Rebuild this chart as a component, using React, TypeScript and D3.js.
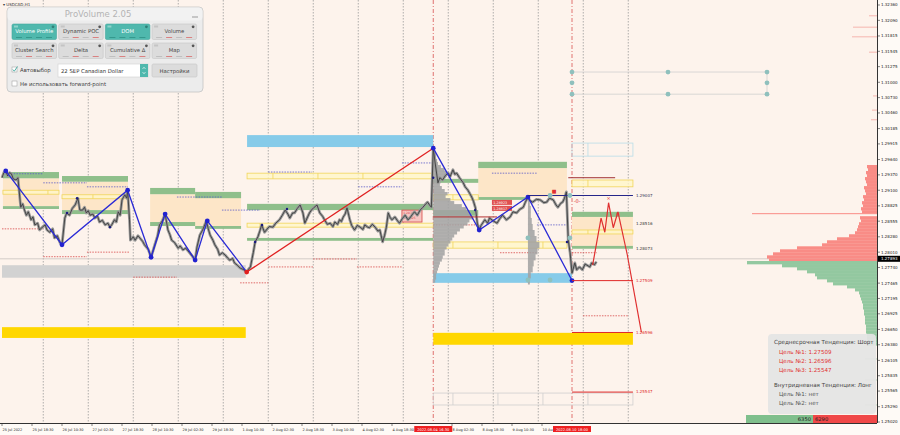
import React from 'react';
import * as d3 from 'd3';

type P = [number, number];

// ---------- price series (H1 bar index, close) ----------
const priceSeries: P[] = [
  [0, 1.2932], [1, 1.2941], [2, 1.2944], [3, 1.2935], [4, 1.2941], [5, 1.2939], [6, 1.2930], [7.5, 1.2928], [8.5, 1.2932], [9, 1.2914],
  [10, 1.2880], [11, 1.2886], [12, 1.2875], [13, 1.2866], [14, 1.2872], [15.5, 1.2858], [16.5, 1.2863], [17.5, 1.2849], [19, 1.2852], [20, 1.2840],
  [21.5, 1.2845], [23, 1.2849], [24, 1.2840], [25.5, 1.2836], [27, 1.2842], [28, 1.2826], [29.5, 1.2830], [31, 1.2817], [32, 1.2814],
  [33.5, 1.2861], [34.5, 1.2870], [36, 1.2866], [37.5, 1.2878], [39, 1.2884], [40.5, 1.2896], [41.5, 1.2875], [43, 1.2875], [44, 1.2880],
  [45, 1.2870], [46, 1.2874], [47, 1.2866], [48.5, 1.2868], [49.5, 1.2861], [51, 1.2864], [52, 1.2854], [53.5, 1.2857], [55, 1.2849],
  [56.5, 1.2852], [57.5, 1.2845], [58.5, 1.2849], [60, 1.2858], [61, 1.2854], [62, 1.2872], [63, 1.2866], [64, 1.2893], [65.5, 1.2902],
  [66.5, 1.2896], [67, 1.2910], [68, 1.2858], [68.5, 1.2822], [70, 1.2828], [71, 1.2822], [72.5, 1.2830], [73.5, 1.2826], [75, 1.2820],
  [76, 1.2814], [78, 1.2806], [79.5, 1.2792], [80.5, 1.2803], [81.5, 1.2814], [83, 1.2830], [84, 1.2849], [85.5, 1.2856], [87, 1.2868],
  [88.5, 1.2840], [89.5, 1.2832], [90.5, 1.2822], [92, 1.2818], [94, 1.2808], [95, 1.2812], [96.5, 1.2805], [98, 1.2808], [100, 1.2800],
  [101.5, 1.2794], [103, 1.2787], [104, 1.2810], [105.5, 1.2831], [107, 1.2840], [109, 1.2856], [110, 1.2842], [111, 1.2831], [112.5, 1.2822],
  [113.5, 1.2814], [115, 1.2806], [116, 1.2796], [117.5, 1.2800], [119, 1.2796], [120.5, 1.2790], [121.5, 1.2787], [123, 1.2790], [124, 1.2782],
  [125.5, 1.2778], [127, 1.2773], [129, 1.2770], [130.5, 1.2766], [131.5, 1.2771], [132.5, 1.2775], [134, 1.2800], [135, 1.2819], [136.5, 1.2828],
  [137.5, 1.2838], [138.5, 1.2849], [140, 1.2836], [141, 1.2840], [142.5, 1.2846], [144.5, 1.2845], [146, 1.2852], [148, 1.2858], [149.5, 1.2866],
  [151, 1.2875], [152.5, 1.2868], [153.5, 1.2861], [155, 1.2870], [156, 1.2870], [157.5, 1.2878], [159, 1.2884], [160.5, 1.2870], [161.5, 1.2852],
  [163, 1.2863], [164, 1.2870], [165, 1.2875], [166.5, 1.2880], [168, 1.2884], [169.5, 1.2870], [171, 1.2864], [172, 1.2858], [173.5, 1.2850],
  [175, 1.2852], [176.5, 1.2846], [177.5, 1.2854], [179, 1.2850], [180, 1.2858], [181, 1.2855], [182, 1.2863], [183, 1.2868], [184, 1.2879],
  [185.5, 1.2858], [186.5, 1.2848], [188, 1.2840], [189.5, 1.2848], [191, 1.2845], [192.5, 1.2841], [193.5, 1.2849], [195, 1.2845], [196, 1.2844],
  [197.5, 1.2850], [199, 1.2845], [200.5, 1.2838], [201.5, 1.2840], [203, 1.2819], [204, 1.2830], [205, 1.2845], [206, 1.2870], [207, 1.2862],
  [208, 1.2858], [209.5, 1.2863], [211, 1.2856], [212, 1.2852], [213.5, 1.2860], [215, 1.2866], [216.5, 1.2858], [217.5, 1.2861], [219, 1.2868],
  [220, 1.2872], [221.5, 1.2866], [223, 1.2875], [224.5, 1.2880], [226, 1.2886], [227, 1.2889], [228, 1.2884], [229, 1.2880], [230, 1.2984],
  [231, 1.2958], [232.5, 1.2923], [233.5, 1.2932], [235, 1.2928], [236.5, 1.2936], [238, 1.2940], [239, 1.2934], [240.5, 1.2946], [241.5, 1.2938],
  [242.5, 1.2940], [244, 1.2932], [246, 1.2923], [247, 1.2916], [248.5, 1.2910], [249.5, 1.2904], [250.5, 1.2898], [251.5, 1.2890], [252.5, 1.2879],
  [253.5, 1.2852], [254.5, 1.2840], [255.5, 1.2848], [257.5, 1.2858], [259, 1.2852], [260, 1.2861], [262, 1.2856], [264, 1.2852], [265.5, 1.2860],
  [267, 1.2866], [269, 1.2858], [271, 1.2863], [272.5, 1.2872], [274.5, 1.2870], [276, 1.2876], [278, 1.2880], [279, 1.2888], [280.5, 1.2898],
  [281.5, 1.2892], [283, 1.2889], [285, 1.2894], [287, 1.2893], [289, 1.2888], [290.5, 1.2889], [292, 1.2896], [294, 1.2893], [295.5, 1.2884],
  [296.5, 1.2880], [298, 1.2887], [299, 1.2889], [300, 1.2896], [301, 1.2907], [302, 1.2822], [303, 1.2800], [303.5, 1.2782], [304, 1.2764],
  [305.5, 1.2782], [306.5, 1.2770], [308, 1.2775], [309.5, 1.2770], [311, 1.2780], [312, 1.2778], [313.5, 1.2775], [314.5, 1.2782], [316, 1.2779],
  [317, 1.2784],
];

const priceDots: P[] = [
  [34.7, 1.2870], [40, 1.2896], [57.6, 1.2845], [135, 1.2819], [138.7, 1.2849], [152, 1.2877], [230, 1.2932], [252.3, 1.2875], [301.3, 1.2819],
];

// ---------- zigzag / projection ----------
const zigzagBlueA: P[] = [[2, 1.2944], [32, 1.2814], [67, 1.2910], [79.5, 1.2792], [87, 1.2868], [103, 1.2787], [109.5, 1.2856], [130.5, 1.2766]];
const zigzagRed: P[] = [[130.5, 1.2766], [230, 1.2984]];
const zigzagBlueB: P[] = [[230, 1.2984], [254.5, 1.2840], [280.5, 1.2898], [304, 1.2751]];
const projection: P[] = [[315, 1.2778], [319.5, 1.2861], [321.5, 1.2836], [323.5, 1.2888], [326, 1.2844], [328.5, 1.2872], [333.5, 1.2796], [341, 1.2660]];

// ---------- zones [bar0, bar1, priceTop, priceBottom] ----------
const greenBands: number[][] = [
  [0.5, 30.4, 1.2942, 1.2931], [0.5, 30.4, 1.2882, 1.2877], [32, 67.2, 1.2935, 1.2925], [32, 67.2, 1.2875, 1.2868],
  [79, 103, 1.2914, 1.2903], [103, 127.5, 1.2907, 1.2896], [79, 103, 1.2854, 1.2847], [103, 127.5, 1.2847, 1.2842],
  [130.7, 230, 1.2886, 1.2875], [130.7, 230, 1.2826, 1.2821], [230, 254, 1.2930, 1.2923], [230, 254, 1.2875, 1.2865],
  [254, 301.3, 1.2960, 1.2949], [254, 280.5, 1.2898, 1.2893], [304, 336.5, 1.2872, 1.2863], [304, 336.5, 1.2812, 1.2807],
];
const beigeZones: number[][] = [
  [0.5, 30.4, 1.2931, 1.2882], [32, 67.2, 1.2925, 1.2875], [79, 127.5, 1.2903, 1.2847], [254, 301.3, 1.2949, 1.2898], [304, 336.5, 1.2863, 1.2812],
];
const yellowBoxes: { r: number[]; div: number[] }[] = [
  { r: [0.5, 30.4, 1.2910, 1.2903], div: [24.5] },
  { r: [32, 67.2, 1.2902, 1.2895], div: [48.5] },
  { r: [130.7, 230, 1.2940, 1.2930], div: [144.5, 168.5, 192.5] },
  { r: [130.7, 230, 1.2852, 1.2845], div: [137.6] },
  { r: [230, 254, 1.2902, 1.2893], div: [240.5] },
  { r: [230, 301.3, 1.2819, 1.2808], div: [240.5, 264.5, 288.5] },
  { r: [304, 336.5, 1.2840, 1.2833], div: [312.5] },
  { r: [304, 336.5, 1.2928, 1.2916], div: [312.5] },
];
const blueOutline = { r: [304, 336.5, 1.2993, 1.2970], div: [312.5] };
const greyOutline = { r: [230, 336.5, 1.2553, 1.2532], div: [240.5, 264.5, 288.5, 312.5] };
const lightBlueBars: number[][] = [[130.7, 230, 1.3007, 1.2986], [230, 304, 1.2764, 1.2747]];
const greyBars: number[][] = [[0, 130, 1.2778, 1.2756]];
const goldBars: number[][] = [[0, 130, 1.2669, 1.2650], [230, 336.5, 1.2659, 1.2638]];

// ---------- dotted levels [bar0, bar1, price] ----------
const navyDotted: number[][] = [
  [0.5, 22, 1.2939], [22, 45.3, 1.2923], [45.3, 67.2, 1.2916], [93.3, 117.3, 1.2898], [117.3, 137.6, 1.2875],
  [142, 165.3, 1.2942], [190, 213.3, 1.2916], [213.3, 230, 1.2958], [261.3, 285.3, 1.2940], [285.3, 301.3, 1.2849],
];
const redDotted: number[][] = [
  [0, 22, 1.2842], [22, 45.3, 1.2793], [45.3, 68.3, 1.2801], [70, 93.3, 1.2757], [127, 142, 1.2747], [142, 166, 1.2775],
  [166, 189.3, 1.2789], [189.3, 213.3, 1.2775], [230, 254, 1.2849], [265.6, 285.3, 1.2800], [304, 317.3, 1.2800], [309.9, 333.9, 1.2689],
];
const solidLevels: { b0: number; b1: number; p: number; c: string }[] = [
  { b0: 280.5, b1: 336.5, p: 1.29007, c: '#26268a' },
  { b0: 230, b1: 264, p: 1.2863, c: '#b43030' },
  { b0: 302, b1: 327, p: 1.2932, c: '#a03030' },
  { b0: 304, b1: 336.5, p: 1.27509, c: '#e02828' },
  { b0: 304, b1: 336.5, p: 1.26596, c: '#e02828' },
  { b0: 304, b1: 336.5, p: 1.25547, c: '#e02828' },
];
const levelLabels: { p: number; c: string }[] = [
  { p: 1.29007, c: '#333355' }, { p: 1.28516, c: '#333' }, { p: 1.28073, c: '#333' },
  { p: 1.27509, c: '#e02828' }, { p: 1.26596, c: '#e02828' }, { p: 1.25547, c: '#e02828' },
];
const handles: P[] = [
  [292.3, 1.29007], [302.9, 1.29007], [280.5, 1.2826], [302.9, 1.2826], [280.5, 1.2752], [292.3, 1.2752],
  [304, 1.3118], [355.2, 1.3118], [408, 1.3118], [304, 1.3099], [408, 1.3099], [304, 1.3079], [355.2, 1.3079], [408, 1.3079],
];
const handleLines: number[][] = [[304, 408, 1.3118], [304, 408, 1.3079]];
const redMarks: { b: number; p: number; t: string }[] = [
  { b: 294.4, p: 1.2909, t: '■' }, { b: 306.7, p: 1.2891, t: '-0-' }, { b: 328.5, p: 1.2868, t: '0' }, { b: 323.5, p: 1.2896, t: '×' },
];

// ---------- volume profiles ----------
const leftProfileTop = 1.2981;
const leftProfileStep = 0.00053;
const leftProfile = [2, 3, 3, 4, 5, 8, 12, 15, 14, 10, 8, 7, 9, 12, 15, 13, 18, 22, 30, 35, 38, 40, 42, 38, 36, 32, 28, 25, 22, 20, 18, 16, 14, 12, 12, 10, 9, 7, 6, 5, 4, 3, 3, 2];
const midProfileTop = 1.2893;
const midProfileStep = 0.00106;
const midProfile = [2, 3, 3, 4, 5, 7, 9, 12, 10, 8, 6, 5, 3, 2];

const rightProfileTop = 1.29544;
const rightStep = 0.00053;
const rightSell = [10, 9, 11, 10, 12, 11, 10, 13, 12, 11, 14, 13, 15, 14, 16, 15, 125, 17, 16, 18, 19, 20, 22, 28, 40, 50, 55, 80, 97, 104, 110, 108];
const rightBuyTop = 1.27854;
const rightBuy = [130, 95, 80, 70, 62, 60, 50, 44, 30, 22, 18, 17, 16, 15, 14, 14, 13, 13, 12, 12, 12, 11, 11, 11, 10, 10, 10, 9];
const rightSparse: P[] = [[1.3217, 8], [1.3197, 24], [1.3180, 25], [1.3153, 8], [1.3076, 4], [1.3051, 5], [1.3034, 6], [1.2613, 12], [1.2576, 12], [1.2532, 12]];

// ---------- axes ----------
const priceTicks = [1.32360, 1.32090, 1.31815, 1.31545, 1.31275, 1.31000, 1.30730, 1.30460, 1.30185, 1.29915, 1.29640, 1.29370, 1.29100, 1.28825,
  1.28555, 1.28280, 1.28010, 1.27740, 1.27465, 1.27195, 1.26925, 1.26650, 1.26380, 1.26105, 1.25835, 1.25565, 1.25290, 1.25020];
const currentPrice = 1.27893;
// labels every 16 bars; null = hidden under a marker box in the reference
const timeLabels: (string | null)[] = ['25 Jul 2022', '25 Jul 18:30', '26 Jul 10:30', '27 Jul 02:30', '27 Jul 18:30', '28 Jul 10:30', '29 Jul 02:30', '29 Jul 18:30',
  '1 Aug 10:30', '2 Aug 02:30', '2 Aug 18:30', '3 Aug 10:30', '4 Aug 02:30', '4 Aug 18:30', null, '8 Aug 02:30', '8 Aug 18:30',
  '9 Aug 10:30', '10 Aug 02:30'];
const gridBars = [22, 46, 70, 94, 118, 142, 166, 190, 214, 238, 262, 286, 310, 334];
const markers: { b: number; t: string }[] = [{ b: 230, t: '2022.08.04 16:30' }, { b: 304, t: '2022.08.10 18:00' }];

// ---------- info box ----------
const infoLines: { t: string; c: string; ind: number }[] = [
  { t: 'Среднесрочная Тенденция: Шорт', c: '#444', ind: 0 },
  { t: 'Цель №1: 1.27509', c: '#e03030', ind: 1 },
  { t: 'Цель №2: 1.26596', c: '#e03030', ind: 1 },
  { t: 'Цель №3: 1.25547', c: '#e03030', ind: 1 },
  { t: 'Внутридневная Тенденция: Лонг', c: '#444', ind: 0 },
  { t: 'Цель №1: нет', c: '#555', ind: 1 },
  { t: 'Цель №2: нет', c: '#555', ind: 1 },
];
const infoY = [344, 354, 363, 372, 387, 396, 405];
const buyVolume = 6350;
const sellVolume = 6290;

const panelButtons = [
  ['Volume Profile', 'Dynamic POC', 'DOM', 'Volume'],
  ['Cluster Search', 'Delta', 'Cumulative Δ', 'Map'],
];
const activeButtons = ['Volume Profile', 'DOM'];

export default function App() {
  const x = d3.scaleLinear().domain([0, 480]).range([2, 902]);
  const y = d3.scaleLinear().domain([1.25003, 1.32448]).range([423, 0]);
  const line = d3.line<P>().x(d => x(d[0])).y(d => y(d[1]));
  const PR = 877, PB = 423;
  const pxStep = (s: number) => Math.abs(y(0) - y(s));
  const vLeft = d3.scaleLinear().domain([0, 42]).range([0, 40]);
  const vRight = d3.scaleLinear().domain([0, 130]).range([0, 130]);

  const rect = (r: number[], props: any, k: any) => (
    <rect key={k} x={x(r[0])} y={y(r[2])} width={x(r[1]) - x(r[0])} height={Math.max(1, y(r[3]) - y(r[2]))} {...props} />
  );
  const boxWithDivs = (b: { r: number[]; div: number[] }, fill: string, stroke: string, k: any) => (
    <g key={k}>
      {rect(b.r, { fill, stroke, strokeWidth: 0.8 }, 'r')}
      {b.div.map((d, i) => (
        <line key={i} x1={x(d)} x2={x(d)} y1={y(b.r[2])} y2={y(b.r[3])} stroke={stroke} strokeWidth={0.8} />
      ))}
    </g>
  );
  const firstMarkerLeft = (b: number) => {
    const m = markers.find(mm => x(mm.b) - 19 > x(b) && x(mm.b) - 19 < x(b) + 20);
    return m ? x(m.b) - 19 - x(b) - 1 : 100;
  };

  return (
    <svg width={900} height={435} style={{ position: 'absolute', left: 0, top: 0, fontFamily: 'DejaVu Sans, Liberation Sans, sans-serif' }}>
      <rect x={0} y={0} width={900} height={435} fill="#fefaf6" />
      <rect x={0} y={0} width={PR} height={PB} fill="#fdf3ec" />
      <defs>
        <clipPath id="plot"><rect x={0} y={0} width={PR} height={PB} /></clipPath>
      </defs>

      <g clipPath="url(#plot)">
        {/* grid */}
        {gridBars.map((b, i) => (
          <line key={i} x1={x(b)} x2={x(b)} y1={0} y2={PB} stroke="#9c9c9c" strokeWidth={0.8} strokeDasharray="1.5,1.5" />
        ))}
        {markers.map((m, i) => (
          <line key={i} x1={x(m.b)} x2={x(m.b)} y1={0} y2={PB} stroke="#d85050" strokeWidth={0.8} strokeDasharray="4,2,1,2" />
        ))}

        {/* zones */}
        {beigeZones.map((r, i) => rect(r, { fill: '#fde6c8' }, 'bz' + i))}
        {greyBars.map((r, i) => rect(r, { fill: '#d2d2d2' }, 'gb' + i))}
        {goldBars.map((r, i) => rect(r, { fill: '#ffd700' }, 'au' + i))}
        {lightBlueBars.map((r, i) => rect(r, { fill: '#86cbe9' }, 'lb' + i))}
        {greenBands.map((r, i) => rect(r, { fill: '#8fbf8b' }, 'gr' + i))}
        {yellowBoxes.map((b, i) => boxWithDivs(b, 'rgba(255,246,200,0.8)', '#f1d55a', 'yb' + i))}
        {boxWithDivs(blueOutline, 'none', '#b8dde8', 'blo')}
        {boxWithDivs(greyOutline, 'none', '#cfcfcf', 'gro')}

        {/* current price line */}
        <line x1={0} x2={PR} y1={y(currentPrice)} y2={y(currentPrice)} stroke="#c9c3bf" strokeWidth={0.8} />

        {/* dotted levels */}
        {navyDotted.map((d, i) => (
          <line key={'nd' + i} x1={x(d[0])} x2={x(d[1])} y1={y(d[2])} y2={y(d[2])} stroke="#5a5ac8" strokeWidth={0.8} strokeDasharray="1.5,1.2" />
        ))}
        {redDotted.map((d, i) => (
          <line key={'rd' + i} x1={x(d[0])} x2={x(d[1])} y1={y(d[2])} y2={y(d[2])} stroke="#d84848" strokeWidth={0.8} strokeDasharray="1.5,1.2" />
        ))}

        {/* volume profiles */}
        {leftProfile.map((v, i) => (
          <rect key={'lp' + i} x={x(230)} y={y(leftProfileTop - i * leftProfileStep)} width={vLeft(v)} height={pxStep(leftProfileStep) + 0.3} fill="#a3a3a3" opacity={0.88} />
        ))}
        {midProfile.map((v, i) => (
          <rect key={'mp' + i} x={x(280.5)} y={y(midProfileTop - i * midProfileStep)} width={vLeft(v)} height={pxStep(midProfileStep) + 0.3} fill="#a3a3a3" opacity={0.88} />
        ))}

        {/* hatched red box & labels */}
        <rect x={x(213.3)} y={y(1.2875)} width={x(224) - x(213.3)} height={y(1.2854) - y(1.2875)} fill="#f6c6c2" stroke="#d84848" strokeWidth={0.8} />
        <text x={x(214)} y={y(1.2869)} fontSize={3} fill="#d84848">1.28739</text>
        <text x={x(214)} y={y(1.2860)} fontSize={3} fill="#d84848">1.28625</text>
        <rect x={x(261.3)} y={y(1.2893)} width={x(272) - x(261.3)} height={5} fill="#e05050" />
        <rect x={x(261.3)} y={y(1.2893) + 6} width={x(272) - x(261.3)} height={5} fill="#e05050" />
        <text x={x(262)} y={y(1.2893) + 4} fontSize={3.4} fill="#fff">1.28923</text>
        <text x={x(262)} y={y(1.2893) + 10} fontSize={3.4} fill="#fff">1.28817</text>

        {/* price */}
        <path d={line(priceSeries) || ''} fill="none" stroke="#9a9a9a" strokeWidth={2.8} strokeLinejoin="round" />
        <path d={line(priceSeries) || ''} fill="none" stroke="#3c3c3c" strokeWidth={0.9} strokeLinejoin="round" />
        {priceDots.map((d, i) => (
          <circle key={'pd' + i} cx={x(d[0])} cy={y(d[1])} r={1.2} fill="#1a1a80" />
        ))}

        {/* zigzag */}
        <path d={line(zigzagBlueA) || ''} fill="none" stroke="#2a2ad6" strokeWidth={1.3} />
        <path d={line(zigzagBlueB) || ''} fill="none" stroke="#2a2ad6" strokeWidth={1.3} />
        <path d={line(zigzagRed) || ''} fill="none" stroke="#e02020" strokeWidth={1.3} />
        {[...zigzagBlueA.slice(0, -1), ...zigzagBlueB].map((d, i) => (
          <circle key={'zb' + i} cx={x(d[0])} cy={y(d[1])} r={2.4} fill="#2222d0" />
        ))}
        <circle cx={x(zigzagRed[0][0])} cy={y(zigzagRed[0][1])} r={2.4} fill="#e02020" />
        <path d={line(projection) || ''} fill="none" stroke="#e03030" strokeWidth={1.2} />

        {/* solid levels & labels */}
        {solidLevels.map((l, i) => (
          <line key={'sl' + i} x1={x(l.b0)} x2={x(l.b1)} y1={y(l.p)} y2={y(l.p)} stroke={l.c} strokeWidth={1} />
        ))}
        {levelLabels.map((l, i) => (
          <text key={'ll' + i} x={x(336.5) + 3} y={y(l.p) + 1.4} fontSize={4} fill={l.c}>{l.p.toFixed(5)}</text>
        ))}
        {redMarks.map((m, i) => (
          <text key={'rm' + i} x={x(m.b)} y={y(m.p) + 2} fontSize={5} fill="#e03030" textAnchor="middle">{m.t}</text>
        ))}

        {/* handles */}
        {handleLines.map((h, i) => (
          <line key={'hl' + i} x1={x(h[0])} x2={x(h[1])} y1={y(h[2])} y2={y(h[2])} stroke="#cfcfcf" strokeWidth={0.8} />
        ))}
        <line x1={x(408)} x2={x(408)} y1={y(1.3118)} y2={y(1.3079)} stroke="#cfcfcf" strokeWidth={0.8} />
        {handles.map((h, i) => (
          <circle key={'hd' + i} cx={x(h[0])} cy={y(h[1])} r={2.4} fill="#8fc0bd" />
        ))}

        {/* right profile */}
        {rightSell.map((v, i) => (
          <rect key={'rs' + i} x={PR - vRight(v)} y={y(rightProfileTop - i * rightStep)} width={vRight(v)} height={i === 16 ? 1 : pxStep(rightStep) + 0.3} fill="#f98c86" />
        ))}
        {rightBuy.map((v, i) => (
          <rect key={'rb' + i} x={PR - vRight(v)} y={y(rightBuyTop - i * rightStep)} width={vRight(v)} height={pxStep(rightStep) + 0.3} fill="#93c8a0" />
        ))}
        {rightSparse.map((d, i) => (
          <line key={'rsp' + i} x1={PR - vRight(d[1])} x2={PR} y1={y(d[0])} y2={y(d[0])} stroke={d[0] > 1.28 ? '#f4a6a0' : '#a6d0b2'} strokeWidth={0.8} />
        ))}

        {/* info box */}
        <rect x={768} y={334} width={108} height={80} rx={4} fill="#e4e4e4" opacity={0.93} />
        {infoLines.map((l, i) => (
          <text key={'il' + i} x={774 + l.ind * 5} y={infoY[i]} fontSize={5.6} fill={l.c}>{l.t}</text>
        ))}
        <rect x={746} y={415} width={67} height={8} fill="#7fbf8c" />
        <rect x={813} y={415} width={64} height={8} fill="#f04848" />
        <text x={811} y={421.2} fontSize={5.2} fill="#222" textAnchor="end">{buyVolume}</text>
        <text x={815} y={421.2} fontSize={5.2} fill="#222">{sellVolume}</text>
      </g>

      {/* axes */}
      <line x1={0} x2={PR} y1={PB + 0.5} y2={PB + 0.5} stroke="#333" strokeWidth={1} />
      <line x1={PR + 0.5} x2={PR + 0.5} y1={0} y2={PB} stroke="#333" strokeWidth={1} />
      {priceTicks.map((p, i) => (
        <g key={'pt' + i}>
          <line x1={PR} x2={PR + 3} y1={y(p)} y2={y(p)} stroke="#333" strokeWidth={0.6} />
          <text x={PR + 4} y={y(p) + 1.4} fontSize={4} fill="#222">{p.toFixed(5)}</text>
        </g>
      ))}
      <rect x={PR + 1} y={y(currentPrice) - 3} width={22} height={6} fill="#000" />
      <text x={PR + 4} y={y(currentPrice) + 1.4} fontSize={4} fill="#fff">{currentPrice.toFixed(5)}</text>
      {timeLabels.map((t, i) => {
        if (!t) return null;
        const b = i * 16;
        const room = firstMarkerLeft(b);
        const shown = room < 18 ? t.slice(0, Math.max(1, Math.floor(room / 1.9))) : t;
        return (
          <g key={'tl' + i}>
            <line x1={x(b)} x2={x(b)} y1={PB} y2={PB + 3} stroke="#333" strokeWidth={0.6} />
            <text x={x(b) + 0.5} y={PB + 7.5} fontSize={3.5} fill="#222">{shown}</text>
          </g>
        );
      })}
      {markers.map((m, i) => (
        <g key={'mk' + i}>
          <rect x={x(m.b) - 19} y={PB + 3} width={38} height={6} fill="#ee2020" />
          <text x={x(m.b)} y={PB + 7.5} fontSize={3.6} fill="#fff" textAnchor="middle">{m.t}</text>
        </g>
      ))}

      {/* symbol */}
      <text x={3} y={6} fontSize={4} fill="#333">▾ USDCAD,H1</text>

      {/* ProVolume panel */}
      <g>
        <rect x={7} y={7} width={196} height={85} rx={4} fill="#ececec" stroke="#c4c4c4" strokeWidth={0.8} />
        <rect x={7.5} y={7.5} width={195} height={13} rx={4} fill="#f2f2f2" />
        <text x={98} y={17} fontSize={8.5} fill="#b4b4b4" textAnchor="middle">ProVolume 2.05</text>
        <line x1={192} x2={198} y1={17} y2={17} stroke="#9a9a9a" strokeWidth={1} />
        {panelButtons.map((row, ri) =>
          row.map((lab, ci) => {
            const bx = 12 + ci * 46.7;
            const by = ri === 0 ? 24 : 43;
            const h = 15.5;
            const on = activeButtons.includes(lab);
            return (
              <g key={lab}>
                <rect x={bx} y={by} width={44.5} height={h} rx={1.5} fill={on ? '#4fb8ad' : '#dcdcdc'} stroke={on ? '#45a79d' : '#c6c6c6'} strokeWidth={0.6} />
                <rect x={bx + 2} y={by + 1.5} width={4} height={2} fill={on ? '#8fd3cb' : '#c4c4c4'} />
                <circle cx={bx + 41} cy={by + 2.8} r={1.4} fill={on ? '#2f7f77' : '#555'} />
                <text x={bx + 22.25} y={by + 9.3} fontSize={5.3} fill={on ? '#fff' : '#444'} textAnchor="middle">{lab}</text>
                {[0, 1, 2, 3].map(k => (
                  <line key={k} x1={bx + 4 + k * 10} x2={bx + 10 + k * 10} y1={by + h - 2} y2={by + h - 2}
                    stroke={on ? '#2f8f85' : (k === 1 || k === 3 ? '#d86a6a' : '#b8b8b8')} strokeWidth={0.8} />
                ))}
              </g>
            );
          })
        )}
        <rect x={12} y={67} width={5} height={5} fill="#fff" stroke="#999" strokeWidth={0.5} />
        <path d="M12.8,69.5 L14.3,71.2 L17.5,66.5" fill="none" stroke="#3aa79c" strokeWidth={0.9} />
        <text x={20} y={71.8} fontSize={5.4} fill="#444">Автовыбор</text>
        <rect x={58} y={64} width={90} height={13} fill="#fff" stroke="#cfcfcf" strokeWidth={0.6} />
        <rect x={140} y={64} width={8} height={13} fill="#4fb8ad" />
        <path d="M142.5,69 L144,67.2 L145.5,69 M142.5,72 L144,73.8 L145.5,72" fill="none" stroke="#fff" strokeWidth={0.6} />
        <text x={61} y={72.5} fontSize={5.3} fill="#333">22 SEP Canadian Dollar</text>
        <rect x={152} y={64} width={45} height={13} rx={1.5} fill="#dcdcdc" stroke="#c6c6c6" strokeWidth={0.6} />
        <text x={174.5} y={72.5} fontSize={5.3} fill="#444" textAnchor="middle">Настройки</text>
        <rect x={12} y={81} width={5} height={5} fill="#fff" stroke="#999" strokeWidth={0.5} />
        <text x={20} y={86} fontSize={5.4} fill="#444">Не использовать forward-point</text>
      </g>
    </svg>
  );
}
